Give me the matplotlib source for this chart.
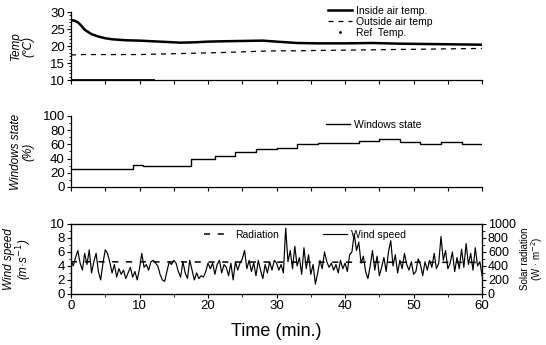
import numpy as np
import matplotlib.pyplot as plt
from matplotlib.ticker import MultipleLocator

plt.rcParams['font.family'] = ['Liberation Sans', 'DejaVu Sans']

# temperature panel
temp_time = [0, 0.5, 1, 1.5, 2, 3, 4, 5, 6, 8, 10, 12, 14, 16, 18, 20, 22, 25, 28, 30,
             33, 36, 40, 44, 48, 52, 56, 60]
inside_temp = [27.6, 27.5, 27.0, 26.0, 24.8, 23.5, 22.8, 22.3, 22.0, 21.7, 21.6, 21.4, 21.2, 21.0,
               21.1, 21.3, 21.4, 21.5, 21.6, 21.3, 20.9, 20.8, 20.8, 20.9, 20.7, 20.6, 20.5, 20.4]
outside_temp = [17.4, 17.4, 17.5, 17.5, 17.5, 17.5, 17.5, 17.5, 17.5, 17.5, 17.5, 17.6, 17.7, 17.8,
                17.9, 18.0, 18.1, 18.3, 18.5, 18.6, 18.6, 18.7, 18.8, 18.9, 19.0, 19.1, 19.2, 19.3]
ref_time = [0, 12]
ref_temp = [10, 10]

# windows state panel
win_time = [0, 9, 10.5, 17.5, 21, 24, 27, 30, 33, 36, 42, 45, 48, 51, 54, 57, 60]
win_state = [25, 31, 29.5, 40, 44, 49, 53.5, 55, 60, 61.5, 65, 67, 63, 60.5, 63, 61, 61]

# wind / radiation panel
wind_speed = [4.8, 4.0, 5.2, 6.2, 4.4, 3.4, 5.8, 4.2, 6.3, 3.0, 4.6, 5.8, 3.2, 2.0, 4.4, 6.3,
              5.8, 4.5, 3.0, 4.2, 2.4, 3.6, 2.8, 3.4, 2.2, 3.0, 3.8, 2.4, 3.2, 2.0, 3.6,
              5.8, 3.8, 4.2, 3.4, 4.6, 4.8, 4.4, 4.0, 2.8, 2.0, 1.8, 3.2, 4.6, 4.2, 4.8,
              4.4, 3.2, 2.4, 4.6, 3.0, 2.2, 4.8, 3.4, 2.0, 3.0, 2.2, 2.6, 2.4, 3.2, 4.4,
              3.6, 4.4, 2.8, 4.2, 4.8, 3.0, 4.2, 3.8, 2.6, 4.4, 2.0, 4.6, 3.4, 4.4, 5.0,
              6.2, 3.6, 4.8, 3.2, 4.4, 2.6, 4.8, 3.4, 2.2, 4.2, 3.0, 4.6, 3.4, 4.8, 4.4,
              3.4, 4.2, 3.0, 9.4, 4.6, 6.2, 3.6, 6.8, 4.0, 5.2, 2.8, 6.6, 3.6, 5.6, 2.8,
              4.2, 1.4, 3.0, 4.8, 3.6, 6.0, 4.6, 3.8, 4.4, 3.4, 4.2, 3.0, 4.8, 3.6, 4.4,
              3.2, 5.6, 6.0, 8.6, 6.2, 7.4, 4.4, 5.4, 3.2, 2.2, 4.0, 6.2, 3.4, 5.4, 2.6,
              3.8, 5.2, 3.2, 6.0, 7.6, 4.0, 5.6, 3.0, 4.8, 3.6, 5.8, 4.2, 3.4, 4.6, 2.8,
              3.2, 5.0, 4.2, 2.6, 4.6, 3.4, 4.8, 3.8, 5.8, 3.6, 4.4, 8.2, 4.8, 6.2, 3.6,
              4.4, 6.0, 3.2, 5.2, 3.6, 6.4, 3.8, 7.2, 4.2, 5.8, 3.4, 6.6, 4.0, 4.6, 2.6]
wind_time = np.linspace(0, 60, len(wind_speed))
rad_time = [0, 10, 20, 30, 40, 50, 60]
radiation = [460, 458, 456, 455, 453, 452, 450]

fig = plt.figure(figsize=(5.46, 3.45), dpi=100)
L, W = 0.130, 0.753
ax1 = fig.add_axes([L, 0.768, W, 0.197])
ax2 = fig.add_axes([L, 0.458, W, 0.206])
ax3 = fig.add_axes([L, 0.148, W, 0.203])

for ax in (ax1, ax2, ax3):
    ax.set_xlim(0, 60)
    ax.tick_params(direction='out', labelsize=9.5, length=3, width=0.8, pad=1.5)
    ax.tick_params(which='minor', direction='out', length=1.8, width=0.6)
    for s in ax.spines.values():
        s.set_linewidth(0.9)

for ax in (ax1, ax2):
    ax.spines['top'].set_visible(False)
    ax.spines['right'].set_visible(False)
    ax.xaxis.set_major_locator(MultipleLocator(5))
    ax.tick_params(axis='x', labelbottom=False)

# top
ax1.plot(temp_time, inside_temp, color='k', lw=1.8, label='Inside air temp.')
ax1.plot(temp_time, outside_temp, color='k', lw=0.9, ls=(0, (4, 4)), label='Outside air temp')
ax1.plot(ref_time, ref_temp, color='k', lw=2.0, label='Ref  Temp.')
ax1.set_ylim(10, 30)
ax1.yaxis.set_major_locator(MultipleLocator(5))
ax1.yaxis.set_minor_locator(MultipleLocator(1))
ax1.set_ylabel('Temp\n(℃)', style='italic', fontsize=8.5, linespacing=0.95)
ax1.yaxis.set_label_coords(-0.09, 0.5)
h, l = ax1.get_legend_handles_labels()
h[2] = plt.Line2D([], [], color='k', marker='.', ms=2, ls='none')
fig.legend(h, l, loc='center left', bbox_to_anchor=(0.600, 0.936), frameon=False,
           fontsize=7.5, handlelength=2.3, handletextpad=0.4, labelspacing=0.1,
           borderpad=0, borderaxespad=0)

# middle
ax2.plot(win_time, win_state, color='k', lw=1.0, drawstyle='steps-post', label='Windows state')
ax2.set_ylim(0, 100)
ax2.yaxis.set_major_locator(MultipleLocator(20))
ax2.yaxis.set_minor_locator(MultipleLocator(10))
ax2.set_ylabel('Windows state\n(%)', style='italic', fontsize=8.5, linespacing=0.95)
ax2.yaxis.set_label_coords(-0.09, 0.5)
ax2.legend(loc='center left', bbox_to_anchor=(0.597, 0.638), bbox_transform=fig.transFigure,
           frameon=False, fontsize=7.5, handlelength=2.3, handletextpad=0.4,
           borderpad=0, borderaxespad=0)

# bottom
ax3.plot(wind_time, wind_speed, color='k', lw=0.85, label='Wind speed')
ax3.set_ylim(0, 10)
ax3.yaxis.set_major_locator(MultipleLocator(2))
ax3.yaxis.set_minor_locator(MultipleLocator(1))
ax3.xaxis.set_major_locator(MultipleLocator(10))
ax3.xaxis.set_minor_locator(MultipleLocator(5))
ax3.set_ylabel('Wind speed\n(m·s$^{-1}$)', style='italic', fontsize=8.5, linespacing=0.95)
ax3.yaxis.set_label_coords(-0.09, 0.5)
ax3.set_xlabel('Time (min.)', fontsize=13, labelpad=8)

ax4 = ax3.twinx()
ax4.plot(rad_time, radiation, color='k', lw=1.1, ls=(0, (4, 5)), label='Radiation')
ax4.set_ylim(0, 1000)
ax4.yaxis.set_major_locator(MultipleLocator(200))
ax4.yaxis.set_minor_locator(MultipleLocator(100))
ax4.tick_params(direction='out', labelsize=9, length=3, width=0.8, pad=1.2)
ax4.tick_params(which='minor', direction='out', length=1.8, width=0.6)
ax4.set_ylabel('Solar radiation\n(W · m$^{-2}$)', fontsize=7, linespacing=0.9)
ax4.yaxis.set_label_coords(1.093, 0.5)

ax4.legend(loc='center left', bbox_to_anchor=(0.373, 0.319), bbox_transform=fig.transFigure,
           frameon=False, fontsize=7.5, handlelength=2.0, handletextpad=1.0,
           borderpad=0, borderaxespad=0)
ax3.legend(loc='center left', bbox_to_anchor=(0.592, 0.319), bbox_transform=fig.transFigure,
           frameon=False, fontsize=7.5, handlelength=2.3, handletextpad=0.4,
           borderpad=0, borderaxespad=0)

fig.savefig('out.png', dpi=100)
